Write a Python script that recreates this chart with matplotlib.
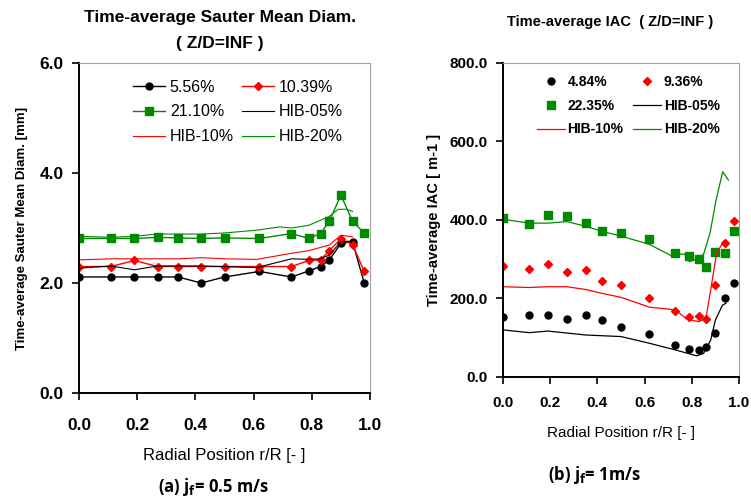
import numpy as np
import matplotlib
matplotlib.use("Agg")
from matplotlib import pyplot as plt
from matplotlib.ticker import FormatStrFormatter

plt.rcParams['font.family'] = ['Liberation Sans', 'DejaVu Sans']

# ---- (a) Sauter mean diameter, jf = 0.5 m/s ----
r_exp = [0.0, 0.11, 0.19, 0.27, 0.34, 0.42, 0.50, 0.62, 0.73, 0.79, 0.83, 0.86, 0.90, 0.94, 0.98]
d_556 = [2.11, 2.11, 2.11, 2.11, 2.11, 2.00, 2.11, 2.21, 2.11, 2.22, 2.30, 2.42, 2.72, 2.75, 2.00]
d_1039 = [2.30, 2.30, 2.41, 2.30, 2.30, 2.30, 2.30, 2.30, 2.30, 2.41, 2.42, 2.59, 2.80, 2.70, 2.21]
d_2110 = [2.81, 2.81, 2.81, 2.83, 2.82, 2.81, 2.82, 2.81, 2.90, 2.81, 2.90, 3.12, 3.60, 3.12, 2.91]

r_hib05_a = [0.0, 0.11, 0.19, 0.27, 0.42, 0.61, 0.73, 0.79, 0.83, 0.86, 0.90, 0.93]
d_hib05 = [2.27, 2.31, 2.24, 2.31, 2.31, 2.28, 2.44, 2.43, 2.44, 2.51, 2.75, 2.76]
r_hib10_a = [0.0, 0.11, 0.19, 0.34, 0.42, 0.50, 0.61, 0.73, 0.79, 0.86, 0.90, 0.94]
d_hib10 = [2.42, 2.44, 2.44, 2.44, 2.46, 2.44, 2.43, 2.54, 2.59, 2.69, 2.87, 2.84]
r_hib20_a = [0.0, 0.11, 0.19, 0.27, 0.34, 0.42, 0.50, 0.61, 0.69, 0.73, 0.79, 0.86, 0.89, 0.92, 0.94]
d_hib20 = [2.85, 2.83, 2.85, 2.89, 2.89, 2.89, 2.91, 2.96, 3.02, 3.00, 3.05, 3.21, 3.34, 3.34, 3.30]

# ---- (b) IAC, jf = 1 m/s ----
r_iac = [0.0, 0.11, 0.19, 0.27, 0.35, 0.42, 0.50, 0.62, 0.73, 0.79, 0.83, 0.86, 0.90, 0.94, 0.98]
a_484 = [154, 158, 158, 148, 158, 145, 128, 110, 82, 71, 68, 76, 113, 200, 240]
a_936 = [284, 274, 287, 268, 272, 245, 234, 200, 168, 152, 155, 149, 234, 341, 397]
a_2235 = [404, 389, 413, 410, 392, 373, 368, 352, 317, 308, 301, 281, 319, 317, 373]

r_hib05_b = [0.0, 0.11, 0.19, 0.35, 0.50, 0.62, 0.73, 0.82, 0.85, 0.88, 0.90, 0.93, 0.945]
a_hib05 = [120, 113, 117, 107, 103, 86, 69, 54, 60, 94, 145, 183, 188]
r_hib10_b = [0.0, 0.11, 0.19, 0.27, 0.35, 0.42, 0.50, 0.62, 0.73, 0.78, 0.83, 0.86, 0.88, 0.905, 0.935, 0.948]
a_hib10 = [230, 228, 230, 230, 223, 213, 203, 178, 171, 147, 141, 150, 222, 315, 346, 340]
r_hib20_b = [0.0, 0.11, 0.19, 0.27, 0.35, 0.42, 0.50, 0.62, 0.71, 0.73, 0.77, 0.79, 0.83, 0.85, 0.877, 0.903, 0.931, 0.955]
a_hib20 = [402, 392, 392, 396, 384, 371, 359, 338, 310, 313, 313, 294, 302, 313, 366, 451, 523, 502]

GREEN = '#008a00'
RED = '#ff0000'

fig = plt.figure(figsize=(7.51, 5.04), dpi=100)
ax1 = fig.add_axes([0.1052, 0.2202, 0.3875, 0.6548])
ax2 = fig.add_axes([0.6698, 0.252, 0.3142, 0.623])


def style_axes(ax, tick_size, xpad):
    for s in ['left', 'bottom']:
        ax.spines[s].set_linewidth(1.4)
        ax.spines[s].set_color('black')
    for s in ['top', 'right']:
        ax.spines[s].set_linewidth(0.8)
        ax.spines[s].set_color('#a0a0a0')
    ax.tick_params(direction='out', length=5, width=1.2, top=False, right=False,
                   labelsize=tick_size, pad=6)
    ax.tick_params(axis='x', pad=xpad)
    for lab in ax.get_xticklabels() + ax.get_yticklabels():
        lab.set_fontweight('bold')
    ax.xaxis.set_major_formatter(FormatStrFormatter('%.1f'))
    ax.yaxis.set_major_formatter(FormatStrFormatter('%.1f'))


# left panel
h1, = ax1.plot(r_exp, d_556, '-o', color='black', lw=1.0, ms=5)
h2, = ax1.plot(r_exp, d_1039, '-D', color=RED, lw=1.0, ms=4.5)
h3, = ax1.plot(r_exp, d_2110, '-s', color=GREEN, lw=1.0, ms=5.5)
h4, = ax1.plot(r_hib05_a, d_hib05, '-', color='black', lw=0.8)
h5, = ax1.plot(r_hib10_a, d_hib10, '-', color=RED, lw=0.8)
h6, = ax1.plot(r_hib20_a, d_hib20, '-', color=GREEN, lw=0.8)
ax1.set_xlim(0, 1.0)
ax1.set_ylim(0, 6.0)
ax1.set_xticks(np.arange(0, 1.01, 0.2))
ax1.set_yticks([0, 2, 4, 6])
style_axes(ax1, 12.5, 13)
ax1.set_xlabel('Radial Position r/R [- ]', fontsize=12, labelpad=11)
ax1.set_ylabel('Time-average Sauter Mean Diam. [mm]', fontsize=9.5, fontweight='bold', labelpad=8)
ax1.legend([h1, h3, h5, h2, h4, h6],
           ['5.56%', '21.10%', 'HIB-10%', '10.39%', 'HIB-05%', 'HIB-20%'],
           ncol=2, frameon=False, fontsize=11.5, loc='upper left',
           bbox_to_anchor=(0.186, 0.95), borderpad=0, borderaxespad=0,
           handlelength=2.0, handletextpad=0.3, columnspacing=0.5, labelspacing=0.62)
fig.text(0.293, 0.94, 'Time-average Sauter Mean Diam.\n( Z/D=INF )', ha='center', va='center',
         fontsize=12.5, fontweight='bold', linespacing=1.95)
fig.text(0.284, 0.033, r'(a) j$_\mathbf{f}$= 0.5 m/s', ha='center', va='center',
         fontsize=12, fontweight='bold', family=['Open Sans', 'DejaVu Sans'])

# right panel
g1, = ax2.plot(r_iac, a_484, 'o', color='black', ms=5, ls='none')
g2, = ax2.plot(r_iac, a_936, 'D', color=RED, ms=4.5, ls='none')
g3, = ax2.plot(r_iac, a_2235, 's', color=GREEN, ms=5.5, ls='none')
g4, = ax2.plot(r_hib05_b, a_hib05, '-', color='black', lw=0.9)
g5, = ax2.plot(r_hib10_b, a_hib10, '-', color=RED, lw=0.9)
g6, = ax2.plot(r_hib20_b, a_hib20, '-', color=GREEN, lw=0.9)
ax2.set_xlim(0, 1.0)
ax2.set_ylim(0, 800)
ax2.set_xticks(np.arange(0, 1.01, 0.2))
ax2.set_yticks([0, 200, 400, 600, 800])
style_axes(ax2, 11, 9)
ax2.set_xlabel('Radial Position r/R [- ]', fontsize=11, labelpad=11)
ax2.set_ylabel('Time-average IAC [ m-1 ]', fontsize=10.5, fontweight='bold', labelpad=6)
ax2.legend([g1, g3, g5, g2, g4, g6],
           ['4.84%', '22.35%', 'HIB-10%', '9.36%', 'HIB-05%', 'HIB-20%'],
           ncol=2, frameon=False,
           prop={'weight': 'bold', 'size': 10},
           loc='upper left', bbox_to_anchor=(0.144, 0.962), borderpad=0, borderaxespad=0,
           handlelength=2.0, handletextpad=0.2, columnspacing=0.7, labelspacing=0.7)
fig.text(0.813, 0.956, 'Time-average IAC  ( Z/D=INF )', ha='center', va='center',
         fontsize=10.5, fontweight='bold')
fig.text(0.792, 0.057, r'(b) j$_\mathbf{f}$= 1m/s', ha='center', va='center',
         fontsize=12, fontweight='bold', family=['Open Sans', 'DejaVu Sans'])

fig.savefig('out.png', dpi=100)
